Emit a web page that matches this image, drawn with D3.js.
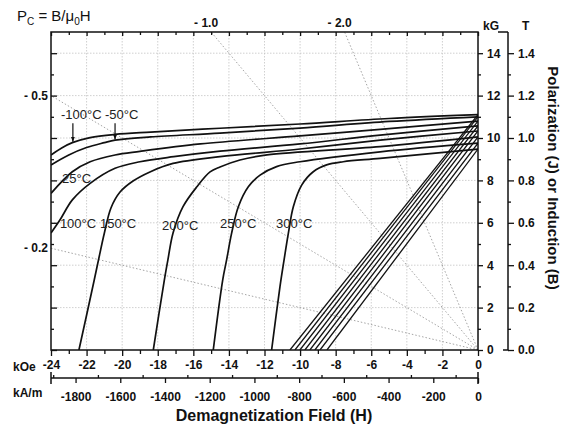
<!DOCTYPE html>
<html>
<head>
<meta charset="utf-8">
<script src="https://cdn.jsdelivr.net/npm/d3@7"></script>
<style>
  body { margin: 0; background: #fff; }
  svg { font-family: "Liberation Sans", Arial, sans-serif; }
</style>
</head>
<body>
<div id="chart"></div>
<script>
// temperatures of the curves
var temps = ["-100°C", "-50°C", "25°C", "100°C", "150°C", "200°C", "250°C", "300°C"];

// intrinsic (J) curves, [H kOe, J kG]
var jM100 = [[-24, 9.2], [-23.4, 9.53], [-22.8, 9.78], [-21.8, 10.02], [-20.4, 10.17], [-18.4, 10.28], [-14.5, 10.46], [-10, 10.66], [-5, 10.92], [0, 11.1]];
var jM50 = [[-24, 8.73], [-23, 9.2], [-22, 9.55], [-21, 9.78], [-20.4, 9.9], [-18.4, 10.05], [-14.5, 10.23], [-10, 10.47], [-5, 10.78], [0, 11.0]];
var j25 = [[-24, 7.39], [-22.8, 8.41], [-21.8, 8.88], [-20.4, 9.2], [-19, 9.37], [-15.6, 9.72], [-10, 10.1], [-5.5, 10.41], [0, 10.8]];
var j100 = [[-24, 5.52], [-23.5, 6.13], [-22.8, 7.08], [-21.8, 7.86], [-20.4, 8.57], [-19, 8.88], [-17.1, 9.12], [-14.5, 9.38], [-10, 9.72], [-5.5, 10.14], [0, 10.57]];
var j150 = [[-22.43, 0], [-21.57, 3.3], [-21.33, 4.25], [-21.0, 5.52], [-20.63, 6.7], [-20.12, 7.45], [-19.39, 7.97], [-18.44, 8.4], [-17.14, 8.8], [-14.5, 9.12], [-10, 9.48], [-5.5, 9.9], [0, 10.33]];
var j200 = [[-18.25, 0], [-17.63, 3.3], [-17.43, 4.25], [-17.14, 5.52], [-16.58, 6.76], [-15.8, 7.7], [-15.06, 8.4], [-14.5, 8.63], [-13.38, 8.96], [-11.86, 9.2], [-5.5, 9.59], [0, 10.05]];
var j250 = [[-14.88, 0], [-14.35, 3.3], [-14.13, 4.25], [-13.85, 5.5], [-13.47, 6.76], [-12.91, 7.7], [-12.25, 8.25], [-11.32, 8.65], [-10.01, 8.88], [-5.5, 9.35], [0, 9.76]];
var j300 = [[-11.6, 0], [-11.13, 2.99], [-10.9, 4.25], [-10.66, 5.5], [-10.38, 6.76], [-9.91, 7.78], [-9.26, 8.41], [-8.51, 8.73], [-7.58, 8.88], [-5.5, 9.04], [0, 9.48]];
var jCurves = [jM100, jM50, j25, j100, j150, j200, j250, j300];

// normal (B) lines: remanence at H=0 and field where B reaches 0
var brValues = [11.1, 11.0, 10.8, 10.57, 10.33, 10.05, 9.76, 9.48];
var bZeroH = [-10.57, -10.29, -10.01, -9.73, -9.45, -9.17, -8.88, -8.49];

// permeance coefficient load lines
var pcValues = [0.2, 0.5, 1.0, 2.0];
var pcLeftLabels = ["- 0.5", "- 0.2"];
var pcTopLabels = ["- 1.0", "- 2.0"];

// tick labels
var kOeTicks = [-24, -22, -20, -18, -16, -14, -12, -10, -8, -6, -4, -2, 0];
var kOeMinor = [-23, -21, -19, -17, -15, -13, -11, -9, -7, -5, -3, -1];
var kamTicks = [-1800, -1600, -1400, -1200, -1000, -800, -600, -400, -200, 0];
var kamMinor = [-1900, -1700, -1500, -1300, -1100, -900, -700, -500, -300, -100];
var kGTicks = [0, 2, 4, 6, 8, 10, 12, 14];
var kGMinor = [1, 3, 5, 7, 9, 11, 13];
var teslaTicks = [0, 0.2, 0.4, 0.6, 0.8, 1.0, 1.2, 1.4];
var teslaMinor = [0.1, 0.3, 0.5, 0.7, 0.9, 1.1, 1.3];

var W = 563, Hh = 427;
var pL = 51, pR = 478, pT = 32, pB = 350;

var svg = d3.select("#chart").append("svg")
  .attr("width", W).attr("height", Hh);

var x = d3.scaleLinear().domain([-24, 0]).range([pL, pR]);
var y = d3.scaleLinear().domain([0, 15]).range([pB, pT]);
var yT = d3.scaleLinear().domain([0, 1.5]).range([pB, pT]);
var xk = d3.scaleLinear().domain([-24 * 79.5775, 0]).range([pL, pR]);

var defs = svg.append("defs");
defs.append("clipPath").attr("id", "clip")
  .append("rect").attr("x", pL).attr("y", pT)
  .attr("width", pR - pL).attr("height", pB - pT);
defs.append("marker")
  .attr("id", "arr").attr("viewBox", "0 0 10 10")
  .attr("refX", 10).attr("refY", 5)
  .attr("markerWidth", 5).attr("markerHeight", 5)
  .attr("markerUnits", "userSpaceOnUse")
  .attr("orient", "auto")
  .append("path").attr("d", "M0,1L10,5L0,9Z").attr("fill", "#111");

// grid
var grid = svg.append("g").attr("stroke", "#c4c4c4").attr("stroke-width", 0.8)
  .attr("stroke-dasharray", "1.5,1.5");
kOeTicks.slice(1, -1).forEach(function(v) {
  grid.append("line").attr("x1", x(v)).attr("x2", x(v)).attr("y1", pT).attr("y2", pB);
});
kGTicks.slice(1).forEach(function(v) {
  grid.append("line").attr("x1", pL).attr("x2", pR).attr("y1", y(v)).attr("y2", y(v));
});

// load lines
var load = svg.append("g").attr("stroke", "#9a9a9a").attr("stroke-width", 0.9)
  .attr("stroke-dasharray", "1.5,2");
pcValues.forEach(function(pc) {
  var he = Math.max(-24, -15 / pc);
  load.append("line").attr("x1", x(0)).attr("y1", y(0))
    .attr("x2", x(he)).attr("y2", y(-pc * he));
});

// curves
var line = d3.line().x(function(d) { return x(d[0]); }).y(function(d) { return y(d[1]); })
  .curve(d3.curveCatmullRom.alpha(0.5));
var curves = svg.append("g").attr("clip-path", "url(#clip)");
jCurves.forEach(function(c) {
  curves.append("path").attr("d", line(c)).attr("fill", "none")
    .attr("stroke", "#111").attr("stroke-width", 1.7);
});
brValues.forEach(function(br, i) {
  curves.append("path").attr("d", line([[bZeroH[i], 0], [0, br]])).attr("fill", "none")
    .attr("stroke", "#111").attr("stroke-width", 1.3);
});

// frame
svg.append("rect").attr("x", pL).attr("y", pT)
  .attr("width", pR - pL).attr("height", pB - pT)
  .attr("fill", "none").attr("stroke", "#111").attr("stroke-width", 1.5);

function styleAxis(g, bold) {
  g.select(".domain").remove();
  g.selectAll(".tick line").attr("stroke", "#111").attr("stroke-width", 1.3);
  g.selectAll(".tick text").attr("fill", "#111")
    .style("font-size", "12px").style("font-weight", bold ? "bold" : "normal");
}
function fmt(d) { return String(d); }

// top inner ticks
svg.append("g").attr("transform", "translate(0," + pT + ")")
  .call(d3.axisBottom(x).tickValues(kOeTicks).tickSize(4).tickFormat(""))
  .call(styleAxis);
svg.append("g").attr("transform", "translate(0," + pT + ")")
  .call(d3.axisBottom(x).tickValues(kOeMinor).tickSize(3).tickFormat(""))
  .call(styleAxis);
// left inner ticks
svg.append("g").attr("transform", "translate(" + pL + ",0)")
  .call(d3.axisRight(y).tickValues(kGTicks).tickSize(6).tickFormat(""))
  .call(styleAxis);
svg.append("g").attr("transform", "translate(" + pL + ",0)")
  .call(d3.axisRight(y).tickValues(kGMinor).tickSize(3).tickFormat(""))
  .call(styleAxis);

// bottom kOe axis
svg.append("g").attr("transform", "translate(0," + pB + ")")
  .call(d3.axisBottom(x).tickValues(kOeTicks).tickSize(6).tickPadding(4).tickFormat(fmt))
  .call(styleAxis, true);
svg.append("g").attr("transform", "translate(0," + pB + ")")
  .call(d3.axisBottom(x).tickValues(kOeMinor).tickSize(4).tickFormat(""))
  .call(styleAxis);

// kA/m axis
var ky = 378;
svg.append("line").attr("x1", pL).attr("x2", pR).attr("y1", ky).attr("y2", ky)
  .attr("stroke", "#111").attr("stroke-width", 1.5);
[pL, pR].forEach(function(px) {
  svg.append("line").attr("x1", px).attr("x2", px).attr("y1", ky - 6).attr("y2", ky + 6)
    .attr("stroke", "#111").attr("stroke-width", 1.5);
});
svg.append("g").attr("transform", "translate(0," + ky + ")")
  .call(d3.axisBottom(xk).tickValues(kamTicks).tickSize(5).tickPadding(9).tickFormat(fmt))
  .call(styleAxis, true);
svg.append("g").attr("transform", "translate(0," + ky + ")")
  .call(d3.axisTop(xk).tickValues(kamMinor).tickSize(3).tickFormat(""))
  .call(styleAxis);

// right kG axis
svg.append("g").attr("transform", "translate(" + pR + ",0)")
  .call(d3.axisRight(y).tickValues(kGTicks).tickSize(5).tickPadding(4).tickFormat(fmt))
  .call(styleAxis, true);
svg.append("g").attr("transform", "translate(" + pR + ",0)")
  .call(d3.axisRight(y).tickValues(kGMinor).tickSize(3).tickFormat(""))
  .call(styleAxis);

// tesla axis
var tx = 508;
svg.append("line").attr("x1", tx).attr("x2", tx).attr("y1", pT).attr("y2", pB)
  .attr("stroke", "#111").attr("stroke-width", 1.5);
svg.append("line").attr("x1", 498).attr("x2", tx).attr("y1", pT).attr("y2", pT)
  .attr("stroke", "#111").attr("stroke-width", 1.5);
svg.append("line").attr("x1", 503).attr("x2", tx).attr("y1", pB).attr("y2", pB)
  .attr("stroke", "#111").attr("stroke-width", 1.5);
svg.append("g").attr("transform", "translate(" + tx + ",0)")
  .call(d3.axisRight(yT).tickValues(teslaTicks).tickSize(6).tickPadding(4).tickFormat(d3.format(".1f")))
  .call(styleAxis, true);
svg.append("g").attr("transform", "translate(" + tx + ",0)")
  .call(d3.axisRight(yT).tickValues(teslaMinor).tickSize(3).tickFormat(""))
  .call(styleAxis);

// unit labels
function txt(s, px, py, opts) {
  opts = opts || {};
  return svg.append("text").attr("x", px).attr("y", py).text(s)
    .attr("fill", "#111")
    .style("font-size", (opts.size || 12) + "px")
    .style("font-weight", opts.bold === false ? "normal" : "bold")
    .attr("text-anchor", opts.anchor || "start");
}
txt("kG", 483, 30);
txt("T", 522, 30);
txt("kOe", 13, 371);
txt("kA/m", 13, 397);

// Pc labels
txt(pcLeftLabels[0], 48, y(0.5 * 24) + 4, {anchor: "end"});
txt(pcLeftLabels[1], 48, y(0.2 * 24) + 4, {anchor: "end"});
txt(pcTopLabels[0], x(-15 / 1.0) - 5, 27, {anchor: "middle"});
txt(pcTopLabels[1], x(-15 / 2.0) - 5, 27, {anchor: "middle"});

// formula
var f = svg.append("text").attr("x", 17).attr("y", 21).attr("fill", "#111")
  .style("font-size", "15px");
f.append("tspan").text("P");
f.append("tspan").text("C").attr("dy", 4).style("font-size", "10px");
f.append("tspan").text(" = B/μ").attr("dy", -4);
f.append("tspan").text("0").attr("dy", 4).style("font-size", "10px");
f.append("tspan").text("H").attr("dy", -4);

// axis titles
txt("Demagnetization Field (H)", 274, 421, {anchor: "middle", size: 16});
svg.append("text").attr("transform", "translate(548,178) rotate(90)")
  .attr("text-anchor", "middle").attr("fill", "#111")
  .style("font-size", "15px").style("font-weight", "bold")
  .text("Polarization (J) or Induction (B)");

// temperature labels (H, B of label start)
var labelAt = [[-23.44, 10.9], [-20.97, 10.9], [-23.38, 7.88], [-23.5, 5.75], [-21.25, 5.75], [-17.76, 5.66], [-14.5, 5.75], [-11.35, 5.75]];
temps.forEach(function(t, i) {
  txt(t, x(labelAt[i][0]), y(labelAt[i][1]), {bold: false, size: 13}).attr("fill", "#222");
});
// arrows for the two coldest curves
[[-22.77, 10.7, 9.82], [-20.4, 10.7, 9.93]].forEach(function(a) {
  svg.append("line").attr("x1", x(a[0])).attr("x2", x(a[0]))
    .attr("y1", y(a[1])).attr("y2", y(a[2]))
    .attr("stroke", "#111").attr("stroke-width", 1.2)
    .attr("marker-end", "url(#arr)");
});
</script>
</body>
</html>
